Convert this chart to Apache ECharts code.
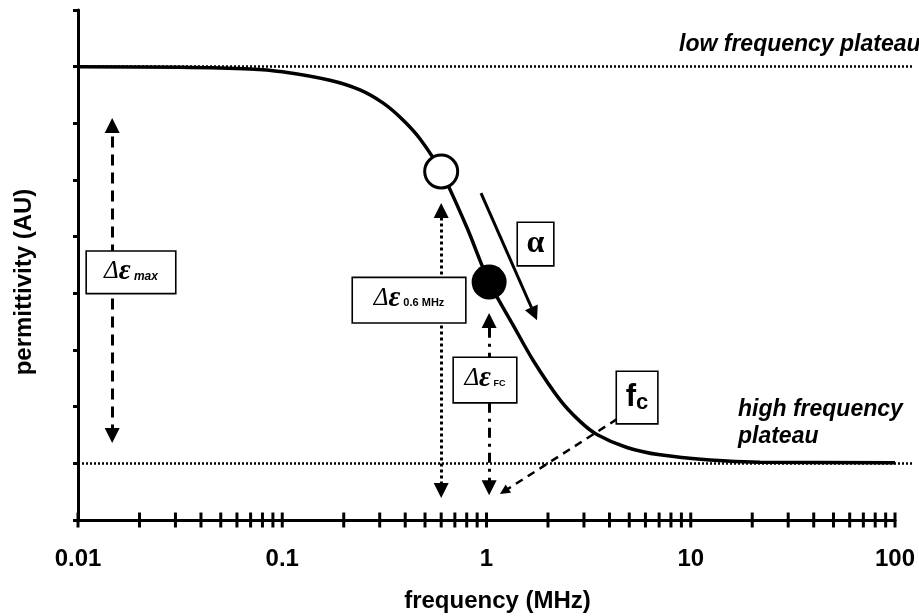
<!DOCTYPE html>
<html>
<head>
<meta charset="utf-8">
<script src="https://cdn.jsdelivr.net/npm/echarts@6/dist/echarts.min.js"></script>
<style>
  html, body { margin: 0; padding: 0; background: #fff; }
  #chart { width: 919px; height: 616px; }
</style>
</head>
<body>
<div id="chart"></div>
<script>
// Dielectric dispersion curve: frequency (MHz) against permittivity (AU)
const freq = [0.01, 0.0316, 0.0695, 0.1, 0.171, 0.24, 0.311, 0.39, 0.474, 0.6, 0.8, 1.03, 1.35, 1.69, 2.29, 2.87, 3.47, 4.87, 7.07, 12.4, 21.8, 100];
const permittivity = [8.0, 7.99, 7.96, 7.91, 7.76, 7.59, 7.36, 7.06, 6.72, 6.15, 5.17, 4.2, 3.44, 2.82, 2.12, 1.74, 1.51, 1.28, 1.15, 1.06, 1.02, 1.01];

// Plateau levels and the frequency span of their guide lines
const lowPlateau = 8;
const highPlateau = 1;
const plateauSpan = [0.01, 122];

// Axis ticks
const xTickLabels = ['0.01', '0.1', '1', '10', '100'];
const xTicks = [0.01, 0.02, 0.03, 0.04, 0.05, 0.06, 0.07, 0.08, 0.09,
                0.1, 0.2, 0.3, 0.4, 0.5, 0.6, 0.7, 0.8, 0.9,
                1, 2, 3, 4, 5, 6, 7, 8, 9,
                10, 20, 30, 40, 50, 60, 70, 80, 90, 100];

// Marked points on the curve
const point06 = [0.6, 6.15];   // 0.6 MHz
const pointFc = [1.03, 4.2];   // characteristic frequency

// Annotation arrows, [from, to] in (MHz, AU); heads are centred on the end points
const arrowDeltaMax = [[0.0147, 1.49], [0.0147, 6.96]];
const arrowDelta06 = [[0.6, 0.52], [0.6, 5.46]];
const arrowDeltaFc = [[1.03, 0.57], [1.03, 3.52]];
const arrowAlpha = [[0.94, 5.77], [1.712, 3.64]];
const arrowFc = [[4.355, 1.78], [1.22, 0.506]];

// Boxed labels: anchor (MHz, AU) and rich text
const boxAnchors = [[0.01817, 4.37], [0.4176, 3.88], [1.738, 4.87], [0.983, 2.47], [5.46, 2.16]];
const boxTexts = ['{d|Δ}{e|ε}{sm| max}', '{d|Δ}{e|ε}{sb| 0.6 MHz}', '{a|α}', '{d|Δ}{e|ε}{sf| FC}', '{f|f}{c|c}'];
const boxSizes = [[88, 41], [112, 44], [35, 42], [62, 44], [40, 51]];

// Free text near the plateaus
const plateauTexts = ['low frequency plateau', 'high frequency\nplateau'];
const plateauTextAnchors = [[8.76, 8.38], [17.03, 1.71]];

const FONT = '"Liberation Sans", Arial, sans-serif';
const SERIF = '"Liberation Serif", "DejaVu Serif", serif';

const rich = {
  d: { fontFamily: SERIF, fontStyle: 'italic', fontSize: 25, color: '#000', lineHeight: 40 },
  e: { fontFamily: SERIF, fontStyle: 'italic', fontWeight: 'bold', fontSize: 29, color: '#000', lineHeight: 40 },
  sm: { fontFamily: FONT, fontStyle: 'italic', fontWeight: 'bold', fontSize: 12, color: '#000', lineHeight: 40, padding: [10, 0, 0, 0] },
  sb: { fontFamily: FONT, fontWeight: 'bold', fontSize: 11, color: '#000', lineHeight: 40, padding: [10, 0, 0, 0] },
  sf: { fontFamily: FONT, fontWeight: 'bold', fontSize: 9, color: '#000', lineHeight: 40, padding: [10, 0, 0, 0] },
  a: { fontFamily: SERIF, fontWeight: 'bold', fontSize: 32, color: '#000', lineHeight: 42 },
  f: { fontFamily: FONT, fontWeight: 'bold', fontSize: 31, color: '#000', lineHeight: 50 },
  c: { fontFamily: FONT, fontWeight: 'bold', fontSize: 22, color: '#000', lineHeight: 50, padding: [12, 0, 0, 0] }
};

const chart = echarts.init(document.getElementById('chart'), null, { renderer: 'canvas' });

function lineSeries(coords, dash, width, symbols, size, z) {
  return {
    type: 'lines',
    coordinateSystem: 'cartesian2d',
    polyline: false,
    clip: false,
    z: z,
    symbol: symbols,
    symbolSize: size,
    lineStyle: { color: '#000', width: width, type: dash, opacity: 1 },
    itemStyle: { color: '#000', opacity: 1 },
    data: [{ coords: coords }],
    silent: true,
    animation: false
  };
}

const option = {
  animation: false,
  backgroundColor: '#fff',
  grid: { left: 78, right: 24, top: 10, bottom: 96, containLabel: false, outerBoundsMode: 'none' },
  xAxis: {
    type: 'log',
    logBase: 10,
    min: 0.01,
    max: 100,
    name: 'frequency (MHz)',
    nameLocation: 'middle',
    nameGap: 69,
    nameTextStyle: { fontFamily: FONT, fontWeight: 'bold', fontSize: 24, color: '#000', padding: [0, 0, 0, 22] },
    axisLine: { lineStyle: { color: '#000', width: 3 } },
    axisTick: { show: false },
    splitLine: { show: false },
    minorTick: { show: false },
    axisLabel: {
      margin: 27,
      fontFamily: FONT, fontWeight: 'bold', fontSize: 24, color: '#000',
      formatter: v => xTickLabels[Math.round(Math.log10(v)) + 2]
    }
  },
  yAxis: {
    type: 'value',
    min: 0,
    max: 9,
    interval: 1,
    name: 'permittivity (AU)',
    nameLocation: 'middle',
    nameGap: 42,
    nameTextStyle: { fontFamily: FONT, fontWeight: 'bold', fontSize: 24, color: '#000', padding: [0, 34, 0, 0] },
    axisLine: { lineStyle: { color: '#000', width: 3 } },
    axisTick: { show: true, inside: false, length: 5, lineStyle: { color: '#000', width: 3 } },
    axisLabel: { show: false },
    splitLine: { show: false }
  },
  series: [
    // plateau guide lines
    lineSeries([[plateauSpan[0], lowPlateau], [plateauSpan[1], lowPlateau]], [2, 2], 2.5, ['none', 'none'], 0, 1),
    lineSeries([[plateauSpan[0], highPlateau], [plateauSpan[1], highPlateau]], [2, 2], 2.5, ['none', 'none'], 0, 1),
    // x axis ticks crossing the axis line
    {
      type: 'scatter',
      data: xTicks.map(v => [v, 0]),
      symbol: 'rect',
      symbolSize: [3, 15],
      itemStyle: { color: '#000', opacity: 1 },
      clip: false, z: 2, silent: true
    },
    // dispersion curve
    {
      type: 'line',
      data: freq.map((f, i) => [f, permittivity[i]]),
      smooth: 0.3,
      showSymbol: false,
      z: 2,
      silent: true,
      lineStyle: { color: '#000', width: 3.5 }
    },
    // arrows
    lineSeries(arrowDeltaMax, [11, 7], 3, ['triangle', 'triangle'], 15, 3),
    lineSeries(arrowDelta06, [3, 3], 3, ['triangle', 'triangle'], 15, 3),
    lineSeries(arrowDeltaFc, [10, 6, 3, 6], 3, ['triangle', 'triangle'], 15, 3),
    lineSeries(arrowAlpha, 'solid', 3, ['none', 'triangle'], 14, 3),
    lineSeries(arrowFc, [8, 6], 2.5, ['none', 'triangle'], 10, 3),
    // marked points
    {
      type: 'scatter',
      data: [point06],
      symbol: 'circle',
      symbolSize: 33,
      itemStyle: { color: '#fff', borderColor: '#000', borderWidth: 3, opacity: 1 },
      z: 4, silent: true
    },
    {
      type: 'scatter',
      data: [pointFc],
      symbol: 'circle',
      symbolSize: 35,
      itemStyle: { color: '#000', opacity: 1 },
      z: 4, silent: true
    },
    // boxed labels
    {
      type: 'scatter',
      symbolSize: 0,
      z: 6,
      silent: true,
      itemStyle: { opacity: 1 },
      data: boxAnchors.map((p, i) => ({
        value: p,
        label: {
          show: true,
          position: 'inside',
          formatter: boxTexts[i],
          width: boxSizes[i][0],
          height: boxSizes[i][1],
          align: 'center',
          verticalAlign: 'middle',
          backgroundColor: '#fff',
          borderColor: '#000',
          borderWidth: 1.6,
          padding: 0,
          opacity: 1,
          rich: rich
        }
      }))
    },
    // plateau annotations
    {
      type: 'scatter',
      symbolSize: 0,
      z: 6,
      silent: true,
      itemStyle: { opacity: 1 },
      data: plateauTextAnchors.map((p, i) => ({
        value: p,
        label: {
          show: true,
          position: 'right',
          distance: 0,
          formatter: plateauTexts[i],
          fontFamily: FONT,
          fontWeight: 'bold',
          fontStyle: 'italic',
          fontSize: 23,
          lineHeight: 27,
          color: '#000',
          opacity: 1,
          align: 'left',
          verticalAlign: 'middle'
        }
      }))
    }
  ]
};

chart.setOption(option);
</script>
</body>
</html>
